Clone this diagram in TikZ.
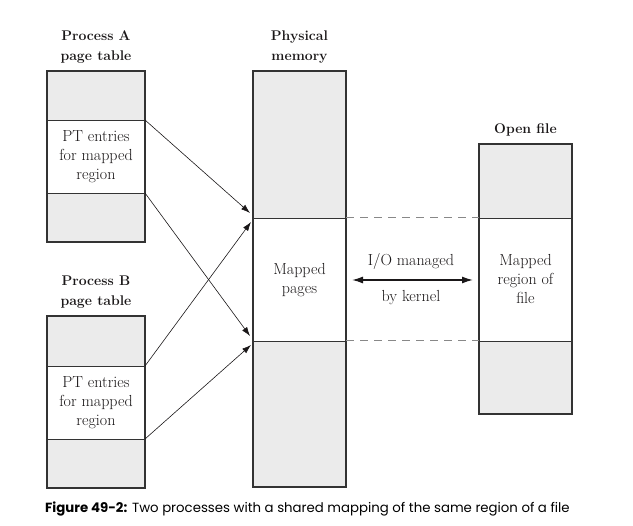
\documentclass[tikz,border=0pt]{standalone}
\usepackage{fontspec}
\newfontfamily\capfont{Poppins}
\usetikzlibrary{arrows.meta}
\definecolor{ink}{HTML}{1A1718}
\definecolor{boxfill}{HTML}{EBEBEB}
\definecolor{frame}{HTML}{333333}
\definecolor{dashc}{HTML}{888888}
\tikzset{
  x=1pt, y=-1pt,
  outer/.style={draw=frame, line width=1.6pt},
  lbl/.style={text=ink, font=\fontsize{16}{19}\selectfont, align=center, inner sep=0pt},
  ttl/.style={text=ink, font=\fontsize{14}{19.5}\selectfont\bfseries, align=center, inner sep=0pt},
  link/.style={draw=ink, line width=0.6pt, -{Latex[length=9pt,width=6pt]}},
  dashline/.style={draw=dashc, line width=1pt, dash pattern=on 8pt off 6pt},
  divider/.style={draw=frame, line width=0.9pt},
}
\begin{document}
\begin{tikzpicture}
\useasboundingbox (0,0) rectangle (633,526);
% Process A page table
\fill[boxfill] (47,71) rectangle (145,242);
\fill[white] (47,120) rectangle (145,193);
\draw[divider] (47,120) -- (145,120) (47,193) -- (145,193);
\draw[outer] (47,71) rectangle (145,242);
\coordinate (a1) at (145,120);
\coordinate (a2) at (145,193);
\node[lbl] (aentries) at (96,157) {PT entries\\for mapped\\region};
\node[ttl] (atitle) at (96,47) {Process A\\page table};
% Process B page table
\fill[boxfill] (47,316) rectangle (145,488);
\fill[white] (47,366) rectangle (145,439);
\draw[divider] (47,366) -- (145,366) (47,439) -- (145,439);
\draw[outer] (47,316) rectangle (145,488);
\coordinate (b1) at (145,366);
\coordinate (b2) at (145,439);
\node[lbl] (bentries) at (96,403) {PT entries\\for mapped\\region};
\node[ttl] (btitle) at (96,292) {Process B\\page table};
% Physical memory
\fill[boxfill] (253,71) rectangle (346,487);
\fill[white] (253,218) rectangle (346,341);
\draw[divider] (253,218) -- (346,218) (253,341) -- (346,341);
\draw[outer] (253,71) rectangle (346,487);
\node[lbl] (mpages) at (299.5,280) {Mapped\\pages};
\node[ttl] (ptitle) at (299.5,47) {Physical\\memory};
\coordinate (p1a) at (250,213);
\coordinate (p1b) at (251,222);
\coordinate (p2a) at (250,336);
\coordinate (p2b) at (251,345);
\coordinate (pr1) at (346,218);
\coordinate (pr2) at (346,341);
% Open file
\fill[boxfill] (479,144) rectangle (572,414);
\fill[white] (479,218) rectangle (572,341);
\draw[divider] (479,218) -- (572,218) (479,341) -- (572,341);
\draw[outer] (479,144) rectangle (572,414);
\node[lbl] (mfile) at (525.5,279) {Mapped\\region of\\file};
\node[ttl] (ftitle) at (525.5,130) {Open file};
\coordinate (f1) at (479,218);
\coordinate (f2) at (479,341);
% dashed
\draw[dashline] (pr1) -- (f1);
\draw[dashline] (pr2) -- (f2);
% arrows
\draw[link] (a1) -- (p1a);
\draw[link] (a2) -- (p2a);
\draw[link] (b1) -- (p1b);
\draw[link] (b2) -- (p2b);
% I/O
\coordinate (io1) at (352,280);
\coordinate (io2) at (473,280);
\draw[draw=ink, line width=1.4pt, {Latex[length=11pt,width=7pt]}-{Latex[length=11pt,width=7pt]}] (io1) -- (io2);
\node[lbl] (iotop) at (411,262) {I/O managed};
\node[lbl] (iobot) at (411,298) {by kernel};
% caption
\node[anchor=base west, inner sep=0pt, text=black, font=\capfont\fontsize{13.3}{15}\selectfont] (cap) at (45,513) {\textbf{Figure 49-2:} Two processes with a shared mapping of the same region of a file};
\end{tikzpicture}
\end{document}
